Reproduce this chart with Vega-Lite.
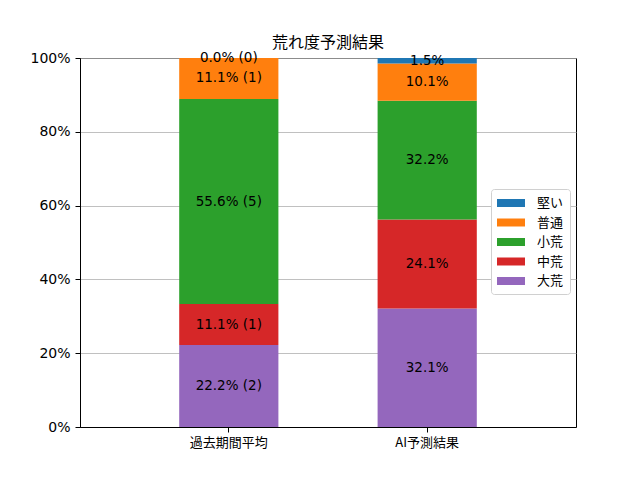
{
  "$schema": "https://vega.github.io/schema/vega-lite/v6.json",
  "width": 496,
  "height": 369,
  "autosize": "none",
  "padding": {"left": 80, "top": 58, "right": 64, "bottom": 53},
  "background": "white",
  "title": {"text": "荒れ度予測結果", "font": "Noto Sans CJK JP", "fontSize": 16, "fontWeight": "normal", "color": "black", "offset": 0},
  "config": {
    "view": {"stroke": "black", "strokeWidth": 1},
    "axis": {"domainColor": "black", "tickColor": "black", "tickSize": 5, "labelColor": "black", "labelFont": "Noto Sans CJK JP", "labelFontSize": 13, "labelPadding": 4, "title": null}
  },
  "data": {"values": [
    {"cat": "過去期間平均", "cls": "大荒", "pct": 22.2, "label": "22.2% (2)"},
    {"cat": "過去期間平均", "cls": "中荒", "pct": 11.1, "label": "11.1% (1)"},
    {"cat": "過去期間平均", "cls": "小荒", "pct": 55.6, "label": "55.6% (5)"},
    {"cat": "過去期間平均", "cls": "普通", "pct": 11.1, "label": "11.1% (1)"},
    {"cat": "過去期間平均", "cls": "堅い", "pct": 0.0, "label": "0.0% (0)"},
    {"cat": "AI予測結果", "cls": "大荒", "pct": 32.1, "label": "32.1%"},
    {"cat": "AI予測結果", "cls": "中荒", "pct": 24.1, "label": "24.1%"},
    {"cat": "AI予測結果", "cls": "小荒", "pct": 32.2, "label": "32.2%"},
    {"cat": "AI予測結果", "cls": "普通", "pct": 10.1, "label": "10.1%"},
    {"cat": "AI予測結果", "cls": "堅い", "pct": 1.5, "label": "1.5%"}
  ]},
  "transform": [
    {"calculate": "indexof(['大荒','中荒','小荒','普通','堅い'], datum.cls)", "as": "ord"},
    {"stack": "pct", "groupby": ["cat"], "sort": [{"field": "ord", "order": "ascending"}], "as": ["y0", "y1"]},
    {"calculate": "(datum.y0 + datum.y1) / 2", "as": "ymid"}
  ],
  "encoding": {
    "x": {"field": "cat", "type": "nominal", "sort": ["過去期間平均", "AI予測結果"], "scale": {"paddingInner": 0.5, "paddingOuter": 0.5}, "axis": {"labelAngle": 0, "grid": false}}
  },
  "layer": [
    {
      "mark": {"type": "bar"},
      "encoding": {
        "y": {"field": "y0", "type": "quantitative", "scale": {"domain": [0, 100]}, "axis": {"values": [0, 20, 40, 60, 80, 100], "labelExpr": "datum.value + '%'", "labelFont": "DejaVu Sans", "labelFontSize": 14, "labelPadding": 5, "grid": true, "gridColor": "#b0b0b0", "gridWidth": 0.8}},
        "y2": {"field": "y1"},
        "color": {"field": "cls", "type": "nominal",
          "scale": {"domain": ["堅い", "普通", "小荒", "中荒", "大荒"], "range": ["#1f77b4", "#ff7f0e", "#2ca02c", "#d62728", "#9467bd"]},
          "legend": {"title": null, "orient": "none", "legendX": 411, "legendY": 131, "fillColor": "white", "strokeColor": "#d0d0d0", "cornerRadius": 3, "padding": 6,
            "symbolType": "M-1,-0.5H2.5V0.5H-1Z", "symbolSize": 256, "symbolStrokeWidth": 0, "symbolOpacity": 1,
            "labelFont": "Noto Sans CJK JP", "labelFontSize": 13, "labelColor": "black", "labelOffset": 24, "rowPadding": 4.5}
        }
      }
    },
    {
      "mark": {"type": "text", "font": "DejaVu Sans", "fontSize": 13.5, "color": "black", "baseline": "middle", "align": "center"},
      "encoding": {
        "y": {"field": "ymid", "type": "quantitative"},
        "text": {"field": "label"}
      }
    }
  ]
}
